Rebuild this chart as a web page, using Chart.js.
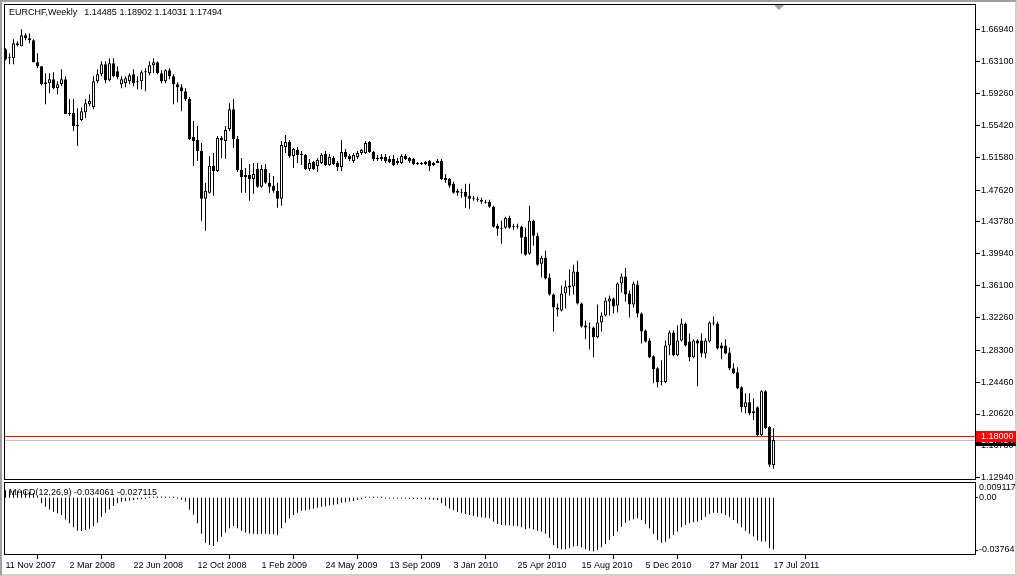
<!DOCTYPE html>
<html>
<head>
<meta charset="utf-8">
<script src="https://cdn.jsdelivr.net/npm/chart.js@4.4.0/dist/chart.umd.min.js"></script>
<style>
  html, body { margin: 0; padding: 0; background: #fff; overflow: hidden; }
  #wrap { position: relative; width: 1017px; height: 576px; }
  #frame { position: absolute; left: 0; top: 0; width: 1017px; height: 576px; box-sizing: border-box;
           border-top: 2px solid #a0a0a0; border-left: 2px solid #a0a0a0;
           border-right: 2px solid #d4d0c8; border-bottom: 2px solid #d4d0c8; }
  canvas { position: absolute; left: 0; }
  #priceChart { top: 0; }
  #macdChart { top: 481px; }
</style>
</head>
<body>
<div id="wrap">
  <div id="frame"></div>
  <canvas id="priceChart" width="1017" height="481"></canvas>
  <canvas id="macdChart" width="1017" height="95"></canvas>
</div>
<script>
const FONT = 'Liberation Sans';
const symbolTitle = 'EURCHF,Weekly';
const macdTitle = 'MACD(12,26,9)';

// x axis labels, one every 16 weekly bars
const dateLabels = ['11 Nov 2007', '2 Mar 2008', '22 Jun 2008', '12 Oct 2008', '1 Feb 2009', '24 May 2009',
  '13 Sep 2009', '3 Jan 2010', '25 Apr 2010', '15 Aug 2010', '5 Dec 2010', '27 Mar 2011', '17 Jul 2011'];
const dateIdx = [0, 16, 32, 48, 64, 80, 96, 112, 128, 144, 160, 176, 192];

const priceTicks = [1.6694, 1.6310, 1.5926, 1.5542, 1.5158, 1.4762, 1.4378, 1.3994, 1.3610,
  1.3226, 1.2830, 1.2446, 1.2062, 1.1678, 1.1294];
const macdTicks = [0.009117, 0, -0.03764];
const levelLine = 1.18;
const macdSignalLast = -0.027115;

// weekly OHLC, EURCHF
const openP = [
  1.6460,1.6363,1.6351,1.6532,1.6496,1.6628,1.6592,1.6568,1.6303,1.6255,
  1.6063,1.6051,1.6099,1.5991,1.6039,1.6099,1.5690,1.5690,1.5534,1.5606,
  1.5702,1.5798,1.5762,1.6075,1.6159,1.6279,1.6087,1.6291,1.6195,1.6039,
  1.6051,1.6075,1.6159,1.6075,1.6075,1.6183,1.6171,1.6267,1.6303,1.6171,
  1.6075,1.6207,1.6135,1.6039,1.6003,1.5955,1.5859,1.5402,1.5366,1.5233,
  1.4657,1.4729,1.5053,1.4993,1.5366,1.5354,1.5498,1.5738,1.5378,1.5005,
  1.4921,1.4945,1.4897,1.5017,1.4801,1.5017,1.4849,1.4813,1.4753,1.4657,
  1.5282,1.5342,1.5173,1.5246,1.5185,1.5185,1.5017,1.5101,1.5053,1.5089,
  1.5197,1.5065,1.5149,1.5089,1.5041,1.5221,1.5173,1.5113,1.5161,1.5209,
  1.5209,1.5342,1.5221,1.5137,1.5137,1.5161,1.5137,1.5137,1.5089,1.5089,
  1.5173,1.5149,1.5137,1.5089,1.5077,1.5077,1.5113,1.5065,1.5089,1.5113,
  1.4909,1.4897,1.4837,1.4729,1.4741,1.4741,1.4693,1.4669,1.4657,1.4645,
  1.4620,1.4620,1.4560,1.4332,1.4296,1.4308,1.4428,1.4320,1.4332,1.4320,
  1.4200,1.3995,1.4392,1.4212,1.3875,1.3947,1.3707,1.3502,1.3346,1.3310,
  1.3514,1.3587,1.3599,1.3779,1.3394,1.3130,1.3106,1.3106,1.2986,1.3166,
  1.3250,1.3418,1.3454,1.3370,1.3635,1.3719,1.3514,1.3382,1.3623,1.3274,
  1.3070,1.2949,1.2757,1.2613,1.2445,1.2445,1.2889,1.3046,1.2769,1.2949,
  1.3154,1.2937,1.2745,1.2949,1.2949,1.2793,1.2937,1.3166,1.3154,1.2889,
  1.2889,1.2805,1.2613,1.2565,1.2385,1.2144,1.2204,1.2072,1.2144,1.1808,
  1.2336,1.1904,1.14485
];
const highP = [
  1.6472,1.6412,1.6580,1.6556,1.6700,1.6652,1.6652,1.6580,1.6412,1.6255,
  1.6171,1.6171,1.6183,1.6075,1.6219,1.6135,1.5859,1.5859,1.5750,1.5762,
  1.5859,1.5919,1.6135,1.6219,1.6315,1.6315,1.6351,1.6351,1.6255,1.6135,
  1.6135,1.6171,1.6219,1.6135,1.6207,1.6231,1.6315,1.6351,1.6315,1.6207,
  1.6219,1.6231,1.6159,1.6063,1.6039,1.5991,1.5883,1.5594,1.5534,1.5330,
  1.4849,1.5173,1.5209,1.5414,1.5414,1.5534,1.5810,1.5859,1.5414,1.5149,
  1.5029,1.5077,1.5089,1.5089,1.5065,1.5077,1.4969,1.4933,1.4849,1.5354,
  1.5426,1.5366,1.5270,1.5282,1.5233,1.5197,1.5137,1.5113,1.5149,1.5209,
  1.5233,1.5197,1.5173,1.5113,1.5366,1.5258,1.5197,1.5209,1.5233,1.5258,
  1.5354,1.5354,1.5233,1.5185,1.5197,1.5197,1.5173,1.5185,1.5149,1.5197,
  1.5197,1.5161,1.5149,1.5101,1.5101,1.5113,1.5125,1.5101,1.5137,1.5137,
  1.4957,1.4909,1.4861,1.4777,1.4777,1.4837,1.4837,1.4693,1.4681,1.4669,
  1.4645,1.4645,1.4572,1.4356,1.4392,1.4440,1.4452,1.4356,1.4356,1.4332,
  1.4308,1.4572,1.4404,1.4248,1.3971,1.4031,1.3755,1.3514,1.3394,1.3611,
  1.3671,1.3803,1.3863,1.3911,1.3406,1.3190,1.3166,1.3118,1.3382,1.3286,
  1.3466,1.3490,1.3466,1.3647,1.3755,1.3827,1.3551,1.3659,1.3671,1.3286,
  1.3082,1.2974,1.2769,1.2625,1.2709,1.2949,1.3070,1.3070,1.3130,1.3214,
  1.3166,1.3034,1.2962,1.2962,1.3034,1.2974,1.3178,1.3238,1.3178,1.2925,
  1.2962,1.2865,1.2673,1.2625,1.2397,1.2312,1.2312,1.2252,1.2156,1.2348,
  1.2348,1.1916,1.18902
];
const lowP = [
  1.6327,1.6279,1.6279,1.6496,1.6496,1.6568,1.6532,1.6303,1.6231,1.6027,
  1.5798,1.5931,1.5979,1.5919,1.6015,1.5678,1.5654,1.5474,1.5294,1.5594,
  1.5630,1.5774,1.5738,1.6051,1.6135,1.6051,1.6075,1.6123,1.6099,1.5991,
  1.6003,1.6039,1.6015,1.5979,1.5979,1.5955,1.6147,1.6171,1.6159,1.6051,
  1.6051,1.6099,1.5798,1.5822,1.5714,1.5835,1.5366,1.5053,1.5113,1.4392,
  1.4272,1.4717,1.4693,1.4981,1.5149,1.5137,1.5474,1.5270,1.4981,1.4729,
  1.4729,1.4632,1.4717,1.4789,1.4789,1.4837,1.4729,1.4729,1.4548,1.4572,
  1.5209,1.5149,1.5029,1.5089,1.5065,1.5005,1.4993,1.5005,1.4981,1.5077,
  1.5053,1.5053,1.5065,1.4993,1.4993,1.5137,1.5113,1.5089,1.5137,1.5185,
  1.5197,1.5209,1.5113,1.5113,1.5113,1.5089,1.5089,1.5053,1.5065,1.5077,
  1.5125,1.5089,1.5065,1.5065,1.5065,1.5065,1.4993,1.5053,1.5089,1.4885,
  1.4849,1.4789,1.4717,1.4693,1.4669,1.4548,1.4536,1.4632,1.4620,1.4596,
  1.4596,1.4548,1.4308,1.4212,1.4115,1.4296,1.4296,1.4284,1.4296,1.3995,
  1.3971,1.3983,1.4091,1.3851,1.3707,1.3683,1.3490,1.3058,1.3238,1.3298,
  1.3334,1.3490,1.3502,1.3382,1.3106,1.2962,1.2841,1.2745,1.2974,1.3058,
  1.3238,1.3250,1.3274,1.3286,1.3526,1.3418,1.3226,1.3346,1.3226,1.2913,
  1.2925,1.2733,1.2433,1.2385,1.2409,1.2433,1.2769,1.2757,1.2757,1.2937,
  1.2877,1.2697,1.2733,1.2397,1.2745,1.2733,1.2925,1.3130,1.2841,1.2721,
  1.2781,1.2589,1.2541,1.2360,1.2084,1.2072,1.2048,1.1988,1.1796,1.1796,
  1.1880,1.1423,1.14031
];
const closeP = [
  1.6339,1.6351,1.6532,1.6508,1.6628,1.6592,1.6568,1.6303,1.6255,1.6039,
  1.6039,1.6099,1.5991,1.6039,1.6099,1.5678,1.5678,1.5534,1.5546,1.5714,
  1.5810,1.5835,1.6075,1.6159,1.6279,1.6087,1.6291,1.6135,1.6123,1.6099,
  1.6111,1.6147,1.6051,1.6063,1.6183,1.6195,1.6267,1.6303,1.6171,1.6075,
  1.6207,1.6135,1.6039,1.6003,1.5955,1.5859,1.5378,1.5354,1.5233,1.4657,
  1.4753,1.5053,1.4993,1.5390,1.5390,1.5486,1.5738,1.5378,1.5005,1.4921,
  1.4945,1.4897,1.4957,1.4801,1.5017,1.4849,1.4801,1.4753,1.4657,1.5306,
  1.5342,1.5173,1.5258,1.5185,1.5197,1.5017,1.5089,1.5017,1.5125,1.5185,
  1.5065,1.5161,1.5077,1.5041,1.5221,1.5161,1.5137,1.5185,1.5209,1.5246,
  1.5330,1.5221,1.5137,1.5149,1.5161,1.5113,1.5101,1.5065,1.5113,1.5173,
  1.5137,1.5113,1.5077,1.5077,1.5089,1.5101,1.5053,1.5089,1.5113,1.4897,
  1.4885,1.4813,1.4729,1.4753,1.4729,1.4681,1.4657,1.4657,1.4645,1.4620,
  1.4608,1.4560,1.4320,1.4296,1.4308,1.4428,1.4308,1.4332,1.4320,1.4188,
  1.3983,1.4392,1.4212,1.3863,1.3947,1.3695,1.3502,1.3346,1.3322,1.3514,
  1.3599,1.3611,1.3779,1.3394,1.3118,1.3106,1.3094,1.2986,1.3166,1.3250,
  1.3430,1.3454,1.3358,1.3635,1.3719,1.3502,1.3382,1.3635,1.3274,1.3058,
  1.2937,1.2745,1.2601,1.2445,1.2457,1.2889,1.3046,1.2769,1.2949,1.3154,
  1.2889,1.2745,1.2949,1.2913,1.2793,1.2949,1.3166,1.3154,1.2853,1.2853,
  1.2793,1.2613,1.2553,1.2372,1.2144,1.2204,1.2072,1.2096,1.1808,1.2336,
  1.1892,1.1449,1.17494
];
// MACD(12,26,9) main line, drawn as histogram
const macdHist = [
  0.0050,0.0048,0.0046,0.0046,0.0048,0.0046,0.0040,0.0032,0.0008,-0.0036,
  -0.0059,-0.0076,-0.0091,-0.0102,-0.0113,-0.0142,-0.0168,-0.0194,-0.0217,-0.0219,
  -0.0212,-0.0203,-0.0186,-0.0164,-0.0124,-0.0098,-0.0076,-0.0054,-0.0036,-0.0026,
  -0.0021,-0.0019,-0.0015,-0.0011,-0.0008,-0.0006,0.0005,0.0008,0.0009,0.0009,
  0.0008,0.0006,0.0002,-0.0002,-0.0013,-0.0024,-0.0079,-0.0112,-0.0167,-0.0237,
  -0.0296,-0.0311,-0.0317,-0.0289,-0.0256,-0.0229,-0.0201,-0.0185,-0.0201,-0.0216,
  -0.0229,-0.0234,-0.0237,-0.0239,-0.0237,-0.0237,-0.0239,-0.0239,-0.0246,-0.0201,
  -0.0164,-0.0135,-0.0113,-0.0098,-0.0085,-0.0081,-0.0077,-0.0072,-0.0066,-0.0059,
  -0.0055,-0.0050,-0.0046,-0.0042,-0.0033,-0.0029,-0.0024,-0.0020,-0.0015,-0.0009,
  0.0004,0.0005,0.0005,0.0004,0.0002,-0.0001,-0.0003,-0.0004,-0.0004,-0.0004,
  -0.0005,-0.0006,-0.0007,-0.0008,-0.0009,-0.0010,-0.0011,-0.0013,-0.0014,-0.0035,
  -0.0054,-0.0070,-0.0081,-0.0092,-0.0098,-0.0107,-0.0113,-0.0120,-0.0124,-0.0128,
  -0.0131,-0.0135,-0.0157,-0.0172,-0.0179,-0.0181,-0.0181,-0.0183,-0.0185,-0.0194,
  -0.0207,-0.0201,-0.0207,-0.0216,-0.0222,-0.0237,-0.0265,-0.0310,-0.0332,-0.0339,
  -0.0339,-0.0332,-0.0321,-0.0317,-0.0326,-0.0339,-0.0348,-0.0352,-0.0343,-0.0326,
  -0.0304,-0.0278,-0.0251,-0.0222,-0.0190,-0.0164,-0.0150,-0.0141,-0.0135,-0.0146,
  -0.0172,-0.0201,-0.0237,-0.0278,-0.0295,-0.0289,-0.0267,-0.0245,-0.0222,-0.0194,
  -0.0179,-0.0168,-0.0161,-0.0157,-0.0146,-0.0124,-0.0107,-0.0098,-0.0098,-0.0102,
  -0.0113,-0.0124,-0.0146,-0.0168,-0.0194,-0.0216,-0.0237,-0.0254,-0.0281,-0.0287,
  -0.0287,-0.0332,-0.034061
];

Chart.defaults.font.family = FONT;
Chart.defaults.font.size = 9;
Chart.defaults.color = '#000';

// 4px per weekly bar, last bar leaves empty space on the right (chart shift)
const X_MIN = -0.375, X_MAX = 242.625;

const idx = openP.map((_, i) => i);
const last = idx.length - 1;
const isBull = idx.map(i => closeP[i] > openP[i]);

function noPad(axis) {
  axis.paddingTop = 0; axis.paddingBottom = 0;
  axis.paddingLeft = 0; axis.paddingRight = 0;
}

const pricePanel = {
  id: 'pricePanel',
  beforeDatasetsDraw(chart) {
    const { ctx, chartArea: a, scales: { y } } = chart;
    ctx.save();
    ctx.lineWidth = 1;
    // bid line at last close
    const yb = Math.round(y.getPixelForValue(closeP[last])) + 0.5;
    ctx.strokeStyle = '#c0c0c0';
    ctx.beginPath(); ctx.moveTo(a.left, yb); ctx.lineTo(a.right, yb); ctx.stroke();
    // horizontal level
    const yl = Math.round(y.getPixelForValue(levelLine)) + 0.5;
    ctx.strokeStyle = '#ff0000';
    ctx.beginPath(); ctx.moveTo(a.left, yl); ctx.lineTo(a.right, yl); ctx.stroke();
    ctx.restore();
  },
  afterDraw(chart) {
    const { ctx, chartArea: a, scales: { y } } = chart;
    ctx.save();
    ctx.lineWidth = 1;
    ctx.strokeStyle = '#000';
    ctx.strokeRect(a.left + 0.5, a.top + 0.5, a.right - a.left - 1, a.bottom - a.top - 1);

    // title + last bar values
    ctx.font = `9px ${FONT}`;
    ctx.fillStyle = '#000';
    ctx.textBaseline = 'middle';
    ctx.fillText(symbolTitle, 9, 13);
    const vals = [openP[last], highP[last], lowP[last], closeP[last]].map(v => v.toFixed(5)).join(' ');
    ctx.fillText(vals, 9 + ctx.measureText(symbolTitle).width + 7, 13);

    // chart shift marker
    ctx.fillStyle = '#a0a0a0';
    ctx.beginPath(); ctx.moveTo(774, 5); ctx.lineTo(784, 5); ctx.lineTo(779, 10); ctx.closePath(); ctx.fill();

    // price tags on the axis
    const tag = (val, bg) => {
      const py = Math.round(y.getPixelForValue(val));
      ctx.fillStyle = bg;
      ctx.fillRect(a.right, py - 5, 40, 11);
      ctx.fillStyle = '#fff';
      ctx.fillText(val.toFixed(5), a.right + 5, py + 0.5);
    };
    tag(closeP[last], '#000');
    tag(levelLine, '#ff0000');
    ctx.restore();
  }
};

new Chart(document.getElementById('priceChart'), {
  type: 'bar',
  data: {
    datasets: [
      {
        data: idx.map(i => ({ x: i, y: [openP[i], closeP[i]] })),
        backgroundColor: isBull.map(b => b ? '#ffffff' : '#000000'),
        borderColor: '#000', borderWidth: 1, borderSkipped: false,
        grouped: false, categoryPercentage: 1, barPercentage: 1, maxBarThickness: 3,
        inflateAmount: 0, minBarLength: 1
      },
      {
        data: idx.map(i => ({ x: i, y: [lowP[i], highP[i]] })),
        backgroundColor: '#000', borderWidth: 0,
        grouped: false, categoryPercentage: 1, barPercentage: 1, maxBarThickness: 1,
        inflateAmount: 0
      }
    ]
  },
  options: {
    responsive: false, animation: false, devicePixelRatio: 1, events: [],
    layout: { padding: { left: 4, top: 4, right: 0, bottom: 1 } },
    plugins: { legend: { display: false }, tooltip: { enabled: false } },
    scales: {
      x: { type: 'linear', display: false, offset: false, min: X_MIN, max: X_MAX },
      y: {
        position: 'right', min: 1.12662, max: 1.70058,
        afterBuildTicks: a => { a.ticks = priceTicks.map(v => ({ value: v })); },
        afterFit: a => { a.width = 41; noPad(a); },
        ticks: { autoSkip: false, padding: 1, color: '#000', font: { family: FONT, size: 9 },
                 callback: v => Number(v).toFixed(5) },
        grid: { drawOnChartArea: false, drawTicks: true, tickLength: 4, color: '#000' },
        border: { display: false }
      }
    }
  },
  plugins: [pricePanel]
});

const macdPanel = {
  id: 'macdPanel',
  afterDraw(chart) {
    const { ctx, chartArea: a, scales: { y } } = chart;
    ctx.save();
    ctx.lineWidth = 1;
    ctx.strokeStyle = '#000';
    ctx.strokeRect(a.left + 0.5, a.top - 1.5, a.right - a.left - 1, a.bottom - a.top + 1);

    ctx.font = `9px ${FONT}`;
    ctx.fillStyle = '#000';
    ctx.textBaseline = 'middle';
    ctx.fillText(`${macdTitle} ${macdHist[last].toFixed(6)} ${macdSignalLast.toFixed(6)}`, 9, 11.5);

    // right scale: max, zero and min of the window
    const labels = [
      { v: macdTicks[0], t: macdTicks[0].toFixed(6), dy: 3.5 },
      { v: macdTicks[1], t: macdTicks[1].toFixed(2), dy: -0.5 },
      { v: macdTicks[2], t: macdTicks[2].toFixed(5), dy: -5 }
    ];
    labels.forEach(l => {
      const py = y.getPixelForValue(l.v) + l.dy;
      ctx.fillText(l.t, a.right + 3, py);
      if (l.v !== macdTicks[0]) {
        ctx.beginPath(); ctx.moveTo(a.right, Math.round(py) + 0.5); ctx.lineTo(a.right + 2, Math.round(py) + 0.5); ctx.stroke();
      }
    });
    ctx.restore();
  }
};

new Chart(document.getElementById('macdChart'), {
  type: 'bar',
  data: {
    datasets: [{
      data: idx.map(i => ({ x: i, y: macdHist[i] })),
      backgroundColor: '#000', borderWidth: 0,
      grouped: false, categoryPercentage: 1, barPercentage: 1, maxBarThickness: 1,
      inflateAmount: 0, minBarLength: 1
    }]
  },
  options: {
    responsive: false, animation: false, devicePixelRatio: 1, events: [],
    layout: { padding: { left: 4, top: 3, right: 41, bottom: 0 } },
    plugins: { legend: { display: false }, tooltip: { enabled: false } },
    scales: {
      x: {
        type: 'linear', offset: false, min: X_MIN, max: X_MAX, position: 'bottom',
        afterBuildTicks: a => { a.ticks = dateIdx.map(v => ({ value: v })); },
        afterFit: a => { a.height = 21; noPad(a); },
        ticks: { autoSkip: false, maxRotation: 0, minRotation: 0, align: 'start', padding: 1,
                 color: '#000', font: { family: FONT, size: 9 },
                 callback: (v, i) => dateLabels[i] },
        grid: { drawOnChartArea: false, drawTicks: true, tickLength: 4, color: '#000' },
        border: { display: false }
      },
      y: { display: false, min: macdTicks[2], max: macdTicks[0] }
    }
  },
  plugins: [macdPanel]
});
</script>
</body>
</html>
